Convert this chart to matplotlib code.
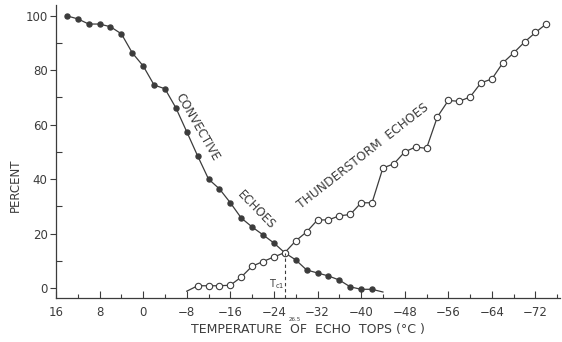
import numpy as np
import matplotlib.pyplot as plt

# data (temperature in deg C, percent)
conv_temp = [14, 12, 10, 8, 6, 4, 2, 0, -2, -4, -6, -8, -10, -12, -14, -16, -18, -20,
             -22, -24, -26, -28, -30, -32, -34, -36, -38, -40, -42, -44]
conv_pct = [100, 98.9, 97, 97, 96, 93.4, 86.4, 81.6, 74.6, 73.2, 66.2, 57.4, 48.5, 40,
            36.4, 31.3, 25.7, 22.4, 19.5, 16.5, 12.9, 10.3, 6.6, 5.5, 4.4, 2.9, 0.4,
            -0.5, -0.5, -1.5]

thun_temp = [-8, -10, -12, -14, -16, -18, -20, -22, -24, -26, -28, -30, -32, -34, -36,
             -38, -40, -42, -44, -46, -48, -50, -52, -54, -56, -58, -60, -62, -64, -66,
             -68, -70, -72, -74]
thun_pct = [-1.2, 0.8, 0.8, 0.8, 1, 4, 8, 9.7, 11.4, 13, 17.3, 20.6, 25, 25, 26.5, 27,
            31.3, 31.3, 44.1, 45.6, 50, 51.8, 51.3, 62.9, 68.9, 68.6, 70.2, 75.4, 76.8,
            82.7, 86.4, 90.4, 93.9, 97.1]

x_ticks = [16, 8, 0, -8, -16, -24, -32, -40, -48, -56, -64, -72]
y_ticks = [0, 20, 40, 60, 80, 100]
t_c1 = -26

ink = '#3c3c3c'
plt.rcParams['font.family'] = 'DejaVu Sans'

fig = plt.figure(figsize=(5.62, 3.42), dpi=100)
ax = fig.add_axes([56 / 562, 1 - 298 / 342, 504 / 562, 293 / 342])

ax.plot(conv_temp, conv_pct, color=ink, lw=0.9, marker='o', ms=3.6,
        mfc=ink, mec=ink, markevery=list(range(len(conv_temp) - 1)))
ax.plot(thun_temp, thun_pct, color=ink, lw=0.9, marker='o', ms=4.6,
        mfc='white', mec=ink, mew=0.8, markevery=list(range(1, len(thun_temp))))

ax.plot([t_c1, t_c1], [-3.7, 13], color=ink, lw=0.8, ls=(0, (3, 2.5)))

ax.set_xlim(16, -76.5)
ax.set_ylim(-3.7, 104)
for s in ['top', 'right']:
    ax.spines[s].set_visible(False)
for s in ['left', 'bottom']:
    ax.spines[s].set_color(ink)
    ax.spines[s].set_linewidth(0.9)

ax.set_xticks(x_ticks)
ax.set_xticklabels([str(t).replace('-', '\u2212') for t in x_ticks])
ax.set_xticks(np.arange(12, -77, -8), minor=True)
ax.set_yticks(y_ticks)
ax.set_yticks([10, 30, 50, 70, 90], minor=True)
ax.tick_params(axis='x', which='major', direction='in', length=5, width=0.8,
               color=ink, labelcolor=ink, labelsize=8.5, pad=6)
ax.tick_params(axis='x', which='minor', direction='in', length=3, width=0.8, color=ink)
ax.tick_params(axis='y', which='major', direction='out', length=4, width=0.8,
               color=ink, labelcolor=ink, labelsize=8.5, pad=2)
ax.tick_params(axis='y', which='minor', direction='in', length=4, width=0.8, color=ink)

ax.set_xlabel('TEMPERATURE  OF  ECHO  TOPS (\u00b0C )', color=ink, fontsize=9, labelpad=3)
ax.set_ylabel('PERCENT', color=ink, fontsize=8.5)
ax.yaxis.set_label_coords(-0.067, 0.386)

ax.text(-10, 59, 'CONVECTIVE', rotation=-60, color=ink, fontsize=8.5,
        ha='center', va='center')
ax.text(-20.8, 28.5, 'ECHOES', rotation=-46, color=ink, fontsize=8.5,
        ha='center', va='center')
ax.text(-40.3, 48.5, 'THUNDERSTORM  ECHOES', rotation=38, color=ink, fontsize=8.8,
        ha='center', va='center')
ax.text(-24.5, 1.5, r'$\mathrm{T_{c1}}$', color=ink, fontsize=7, ha='center', va='center')
ax.text(-27.8, -11.5, '26.5', color=ink, fontsize=4, ha='center', va='center', clip_on=False)

fig.savefig('out.png', dpi=100, facecolor='white')
